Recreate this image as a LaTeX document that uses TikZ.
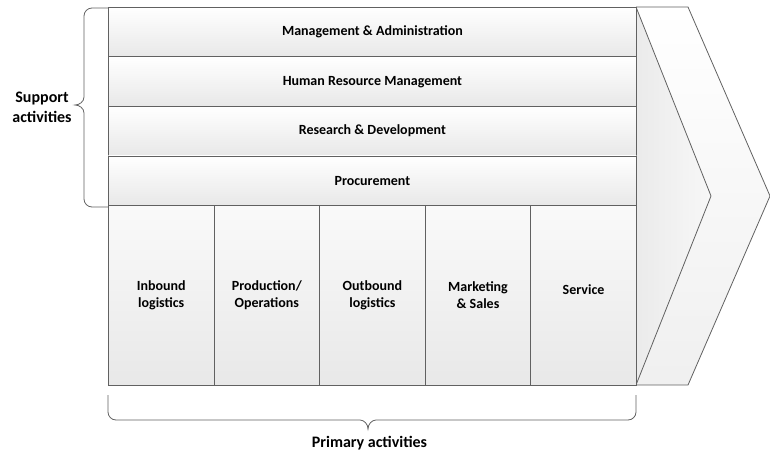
\documentclass[tikz,border=0pt]{standalone}
\usepackage{fontspec}
\setmainfont{Carlito}
\begin{document}
\begin{tikzpicture}[x=1pt,y=-1pt,
  line/.style={draw=black!62,line width=0.8pt},
  rowbox/.style={line,top color=white,bottom color=black!9,minimum width=528pt,minimum height=49.5pt,inner sep=0pt,anchor=north west,font=\fontsize{14}{16}\selectfont\bfseries},
  colbox/.style={line,top color=black!2,bottom color=black!9,minimum width=105.6pt,minimum height=180pt,inner sep=0pt,anchor=north west,align=center,font=\fontsize{14}{17}\selectfont\bfseries},
  sidelabel/.style={align=center,font=\fontsize{16}{20}\selectfont\bfseries}]
\useasboundingbox (0,0) rectangle (770,452);
% chevron behind
\coordinate (c1) at (636,7);
\coordinate (c2) at (688,7);
\coordinate (c3) at (770,196);
\coordinate (c4) at (688,385);
\coordinate (c5) at (636,385);
\coordinate (c6) at (711,196);
\path[top color=white,bottom color=black!6] (c1) -- (c2) -- (c3) -- (c4) -- (c5) -- cycle;
\path[left color=black!8,right color=black!3] (c1) -- (c6) -- (c5) -- cycle;
\draw[line] (c1) -- (c2) -- (c3) -- (c4) -- (c5);
\draw[line] (c1) -- (c6) -- (c5);
% rows
\node[rowbox] (ma) at (108,7) {Management \& Administration};
\node[rowbox] (hr) at (108,56.5) {Human Resource Management};
\node[rowbox] (rd) at (108,106) {Research \& Development};
\node[rowbox] (pr) at (108,155.5) {Procurement};
% columns
\node[colbox] (in) at (108,205) {Inbound\\logistics};
\node[colbox] (po) at (213.6,205) {Production/\\Operations};
\node[colbox] (ou) at (319.2,205) {Outbound\\logistics};
\node[colbox] (mk) at (424.8,205) {Marketing\\\& Sales};
\node[colbox,text depth=12pt] (sv) at (530.4,205) {Service};
% left brace
\coordinate (lt) at (108,8);
\coordinate (lb) at (108,207);
\coordinate (ltip) at (75,105);
\draw[line] (lt) -- (92,8) .. controls (87.6,8) and (84,11.6) .. (84,16) -- (84,97)
  .. controls (84,102) and (79,105) .. (ltip)
  .. controls (79,105) and (84,108) .. (84,113) -- (84,199)
  .. controls (84,203.4) and (87.6,207) .. (92,207) -- (lb);
\node[sidelabel] (sup) at (42,107) {Support\\activities};
% bottom brace
\coordinate (bl) at (108,395);
\coordinate (br) at (636,395);
\coordinate (btip) at (368,429);
\draw[line] (bl) -- (108,412) .. controls (108,416.4) and (111.6,420) .. (116,420) -- (360,420)
  .. controls (364,420) and (368,424) .. (btip)
  .. controls (368,424) and (372,420) .. (376,420) -- (628,420)
  .. controls (632.4,420) and (636,416.4) .. (636,412) -- (br);
\node[sidelabel] (pri) at (369.5,443) {Primary activities};
\end{tikzpicture}
\end{document}
